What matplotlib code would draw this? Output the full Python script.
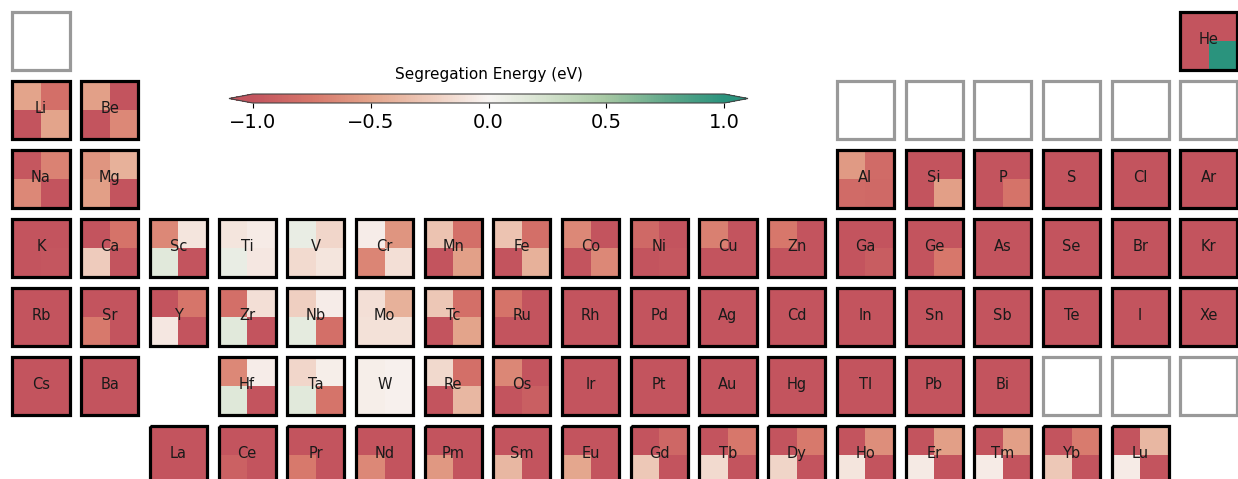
import numpy as np
import matplotlib.pyplot as plt
import matplotlib.patches as mpatches
from matplotlib.colors import LinearSegmentedColormap

# Layout of the table (period rows, 18 groups); "" = no box
table_rows = [
    ["H"] + [""] * 16 + ["He"],
    ["Li", "Be"] + [""] * 10 + ["B", "C", "N", "O", "F", "Ne"],
    ["Na", "Mg"] + [""] * 10 + ["Al", "Si", "P", "S", "Cl", "Ar"],
    "K Ca Sc Ti V Cr Mn Fe Co Ni Cu Zn Ga Ge As Se Br Kr".split(),
    "Rb Sr Y Zr Nb Mo Tc Ru Rh Pd Ag Cd In Sn Sb Te I Xe".split(),
    ["Cs", "Ba", ""] + "Hf Ta W Re Os Ir Pt Au Hg Tl Pb Bi Po At Rn".split(),
    ["", ""] + "La Ce Pr Nd Pm Sm Eu Gd Tb Dy Ho Er Tm Yb Lu".split(),
]

# Segregation energies (eV) for the four sites of each solute
symbols = [
    "He",
    "Li", "Be",
    "Na", "Mg", "Al", "Si", "P", "S", "Cl", "Ar",
    "K", "Ca", "Sc", "Ti", "V", "Cr", "Mn", "Fe", "Co", "Ni", "Cu", "Zn",
    "Ga", "Ge", "As", "Se", "Br", "Kr",
    "Rb", "Sr", "Y", "Zr", "Nb", "Mo", "Tc", "Ru", "Rh", "Pd", "Ag", "Cd",
    "In", "Sn", "Sb", "Te", "I", "Xe",
    "Cs", "Ba", "Hf", "Ta", "W", "Re", "Os", "Ir", "Pt", "Au", "Hg",
    "Tl", "Pb", "Bi",
    "La", "Ce", "Pr", "Nd", "Pm", "Sm", "Eu", "Gd", "Tb", "Dy", "Ho",
    "Er", "Tm", "Yb", "Lu",
]
top_left = [
    -1.0,
    -0.50, -0.52,
    -0.97, -0.58, -0.55, -1.0, -1.0, -1.0, -1.0, -1.0,
    -1.0, -1.0, -0.65, -0.10, 0.10, -0.05, -0.30, -0.30, -0.65, -0.85, -0.70, -0.75,
    -1.0, -1.0, -1.0, -1.0, -1.0, -1.0,
    -1.0, -1.0, -1.0, -0.80, -0.22, -0.13, -0.28, -0.78, -1.0, -1.0, -1.0, -1.0,
    -1.0, -1.0, -1.0, -1.0, -1.0, -1.0,
    -1.0, -1.0, -0.65, -0.18, -0.04, -0.17, -0.66, -1.0, -1.0, -1.0, -1.0,
    -1.0, -1.0, -1.0,
    -1.0, -1.0, -1.0, -1.0, -1.0, -1.0, -1.0, -1.0, -1.0, -1.0, -1.0,
    -1.0, -1.0, -1.0, -1.0,
]
top_right = [
    -1.0,
    -0.80, -1.0,
    -0.68, -0.42, -0.83, -1.0, -1.0, -1.0, -1.0, -1.0,
    -1.0, -0.78, -0.10, -0.06, -0.18, -0.58, -0.80, -0.80, -1.0, -1.0, -1.0, -1.0,
    -1.0, -1.0, -1.0, -1.0, -1.0, -1.0,
    -1.0, -1.0, -0.76, -0.13, -0.05, -0.42, -0.80, -1.0, -1.0, -1.0, -1.0, -1.0,
    -1.0, -1.0, -1.0, -1.0, -1.0, -1.0,
    -1.0, -1.0, -0.05, -0.04, -0.03, -0.80, -1.0, -1.0, -1.0, -1.0, -1.0,
    -1.0, -1.0, -1.0,
    -1.0, -1.0, -1.0, -1.0, -1.0, -1.0, -1.0, -0.86, -0.75, -0.74, -0.62,
    -0.53, -0.53, -0.72, -0.38,
]
bottom_left = [
    -1.0,
    -1.0, -1.0,
    -0.65, -0.53, -0.83, -1.0, -1.0, -1.0, -1.0, -1.0,
    -1.0, -0.25, 0.15, 0.10, -0.16, -0.67, -1.0, -1.0, -1.0, -1.0, -1.0, -1.0,
    -1.0, -1.0, -1.0, -1.0, -1.0, -1.0,
    -1.0, -0.74, -0.08, 0.15, 0.13, -0.12, -1.0, -1.0, -1.0, -1.0, -1.0, -1.0,
    -1.0, -1.0, -1.0, -1.0, -1.0, -1.0,
    -1.0, -1.0, 0.17, 0.15, -0.04, -1.0, -1.0, -1.0, -1.0, -1.0, -1.0,
    -1.0, -1.0, -1.0,
    -1.0, -0.90, -0.74, -0.65, -0.57, -0.38, -0.48, -0.27, -0.16, -0.19, -0.10,
    -0.07, -0.06, -0.27, -0.06,
]
bottom_right = [
    1.0,
    -0.50, -0.65,
    -1.0, -1.0, -0.85, -0.53, -0.78, -1.0, -1.0, -1.0,
    -0.98, -1.0, -1.0, -0.08, -0.10, -0.13, -0.52, -0.42, -0.65, -0.97, -1.0, -1.0,
    -0.93, -0.75, -1.0, -1.0, -1.0, -1.0,
    -1.0, -1.0, -1.0, -1.0, -0.80, -0.12, -0.50, -1.0, -1.0, -1.0, -1.0, -1.0,
    -1.0, -1.0, -1.0, -1.0, -1.0, -1.0,
    -1.0, -1.0, -1.0, -0.77, -0.03, -0.38, -0.92, -1.0, -1.0, -1.0, -1.0,
    -1.0, -1.0, -1.0,
    -1.0, -1.0, -1.0, -1.0, -1.0, -1.0, -1.0, -1.0, -1.0, -1.0, -1.0,
    -1.0, -1.0, -1.0, -1.0,
]

# red -> white -> teal
cmap = LinearSegmentedColormap.from_list("seg", [
    (0.000, "#c3545e"),
    (0.125, "#d7776b"),
    (0.250, "#e3a48b"),
    (0.375, "#eecbbb"),
    (0.500, "#f8f5f3"),
    (0.625, "#d3e1cc"),
    (0.750, "#a6c8a3"),
    (0.875, "#62a98b"),
    (1.000, "#2a937d"),
])
vmin, vmax = -1.0, 1.0

fig = plt.figure(figsize=(12.38, 4.79), dpi=100)
ax = fig.add_axes([0, 0, 1, 1])

half = 0.415
energies = {s: (tl, tr, bl, br) for s, tl, tr, bl, br in
            zip(symbols, top_left, top_right, bottom_left, bottom_right)}

mesh = None
for r, row in enumerate(table_rows, start=1):
    for c, sym in enumerate(row, start=1):
        if not sym:
            continue
        x0, x1 = c - half, c + half
        y0, y1 = r - half, r + half
        if sym in energies:
            tl, tr, bl, br = energies[sym]
            vals = np.array([[tl, tr], [bl, br]])
            mesh = ax.pcolormesh([x0, c, x1], [y0, r, y1], vals, cmap=cmap,
                                 vmin=vmin, vmax=vmax, shading="flat")
            ax.add_patch(mpatches.Rectangle((x0, y0), 2 * half, 2 * half,
                                            fill=False, ec="black", lw=2.3, zorder=3))
            ax.text(c, r - 0.02, sym, ha="center", va="center", fontsize=10.5,
                    color="#1a1a1a", zorder=4)
        else:
            ax.add_patch(mpatches.Rectangle((x0, y0), 2 * half, 2 * half,
                                            fill=False, ec="#999999", lw=2.3, zorder=3))

ax.set_xlim(1 - 41 / 68.7, 1 + (1238 - 41) / 68.7)
ax.set_ylim(1 + (479 - 41) / 69, 1 - 41 / 69)
ax.axis("off")

cax = fig.add_axes([229 / 1238, 1 - 103 / 479, 519 / 1238, 9 / 479])
cb = fig.colorbar(mesh, cax=cax, orientation="horizontal", extend="both")
cb.set_ticks([-1.0, -0.5, 0.0, 0.5, 1.0])
cb.ax.tick_params(labelsize=14)
cb.set_label("Segregation Energy (eV)", fontsize=11, labelpad=11)
cb.ax.xaxis.set_label_position("top")
cb.outline.set_edgecolor("#444444")

fig.savefig("out.png", dpi=100)
